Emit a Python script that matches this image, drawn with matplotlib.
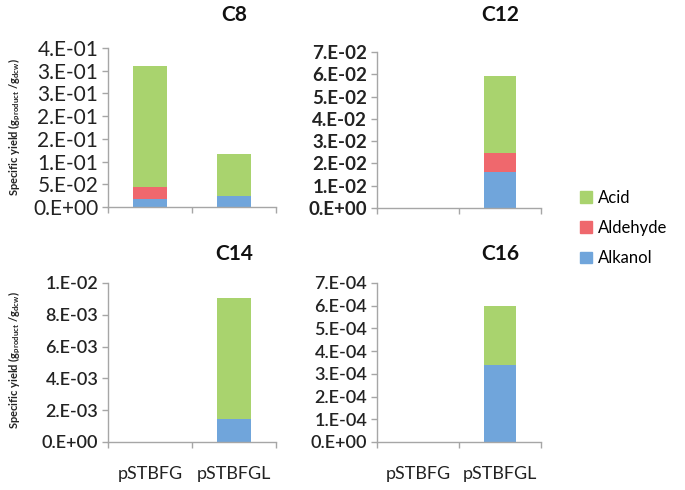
import numpy as np
import matplotlib
matplotlib.use('Agg')
import matplotlib.pyplot as plt
import matplotlib.transforms as mtransforms
from matplotlib.patches import Patch

plt.rcParams['font.family'] = ['Lato', 'DejaVu Sans']
plt.rcParams['mathtext.fontset'] = 'custom'
plt.rcParams['mathtext.rm'] = 'Lato'
plt.rcParams['mathtext.bf'] = 'Lato:bold'

# data
strains = ['pSTBFG', 'pSTBFGL']

c8_alkanol = [0.018, 0.024]
c8_aldehyde = [0.026, 0.0]
c8_acid = [0.266, 0.092]

c12_alkanol = [0.0, 0.0163]
c12_aldehyde = [0.0, 0.0084]
c12_acid = [0.0, 0.0344]

c14_alkanol = [0.0, 0.00147]
c14_aldehyde = [0.0, 0.0]
c14_acid = [0.0, 0.00759]

c16_alkanol = [0.0, 3.39e-4]
c16_aldehyde = [0.0, 0.0]
c16_acid = [0.0, 2.58e-4]

# colors
col_acid = '#A9D36E'
col_ald = '#EF686D'
col_alk = '#70A5DB'
col_axis = '#A6A6A6'


def excel_sci(v, pos=None):
    # Excel "0.E+00" style
    if abs(v) < 1e-15:
        return '0.E+00'
    e = int(np.floor(np.log10(abs(v)) + 1e-9))
    m = int(np.floor(v / 10**e + 0.5 + 1e-9))
    if m == 10:
        m, e = 1, e + 1
    return f"{m}.E{e:+03d}"


def plot_panel(ax, alk, ald, acid, ymax, nticks, title, title_y, show_x, tick_size, tick_weight):
    x = np.arange(len(strains))
    w = 0.4
    ax.bar(x, alk, w, color=col_alk)
    ax.bar(x, ald, w, bottom=alk, color=col_ald)
    ax.bar(x, acid, w, bottom=np.array(alk) + np.array(ald), color=col_acid)

    ax.set_xlim(-0.5, 1.5)
    ax.set_ylim(0, ymax)
    ticks = np.linspace(0, ymax, nticks + 1)
    ax.set_yticks(ticks)
    ax.set_yticklabels([excel_sci(t) for t in ticks],
                       fontsize=tick_size, fontweight=tick_weight)

    # category boundaries as ticks
    ax.set_xticks([-0.5, 0.5, 1.5])
    ax.set_xticklabels([])
    ax.set_xticks(x, minor=True)
    if show_x:
        ax.set_xticklabels(strains, minor=True, fontsize=13, color='#222222')
    ax.tick_params(axis='x', which='minor', length=0, pad=17)
    ax.tick_params(axis='both', which='major', length=4, color=col_axis, width=1)
    ax.tick_params(axis='y', pad=3, colors='#222222')
    ax.tick_params(axis='y', color=col_axis)

    for s in ['top', 'right']:
        ax.spines[s].set_visible(False)
    for s in ['left', 'bottom']:
        ax.spines[s].set_color(col_axis)
        ax.spines[s].set_linewidth(1)

    # title above second category
    trans = mtransforms.blended_transform_factory(ax.transData, ax.figure.transFigure)
    ax.text(1, 1 - title_y / 490, title, transform=trans, ha='center', va='center',
            fontsize=15, fontweight='bold', color='#111111')


fig = plt.figure(figsize=(6.85, 4.9), dpi=100)

ax_tl = fig.add_axes([0.1577, 0.5776, 0.2453, 0.3245])
ax_tr = fig.add_axes([0.5504, 0.5755, 0.2394, 0.3184])
ax_bl = fig.add_axes([0.1577, 0.0980, 0.2453, 0.3245])
ax_br = fig.add_axes([0.5504, 0.0980, 0.2394, 0.3245])

plot_panel(ax_tl, c8_alkanol, c8_aldehyde, c8_acid, 0.35, 7, 'C8', 15, False, 15, 'normal')
plot_panel(ax_tr, c12_alkanol, c12_aldehyde, c12_acid, 0.07, 7, 'C12', 15, False, 13.5, 'bold')
plot_panel(ax_bl, c14_alkanol, c14_aldehyde, c14_acid, 0.01, 5, 'C14', 254, True, 13, 'semibold')
plot_panel(ax_br, c16_alkanol, c16_aldehyde, c16_acid, 7e-4, 7, 'C16', 254, True, 13, 'semibold')

# y labels
ylab = r'Specific yield (g$_{\mathbf{product}}$ /g$_{\mathbf{dcw}}$)'
fig.text(15 / 685, 1 - 127 / 490, ylab, rotation=90, ha='center', va='center',
         fontsize=8, fontweight='bold', color='#222222')
fig.text(15 / 685, 1 - 360 / 490, ylab, rotation=90, ha='center', va='center',
         fontsize=8, fontweight='bold', color='#222222')

# legend
handles = [Patch(color=col_acid, label='Acid'),
           Patch(color=col_ald, label='Aldehyde'),
           Patch(color=col_alk, label='Alkanol')]
fig.legend(handles=handles, loc='upper left', bbox_to_anchor=(580 / 685, 1 - 190 / 490),
           frameon=False, fontsize=12, handlelength=0.7, handleheight=0.7,
           handletextpad=0.35, labelspacing=0.85, borderpad=0, borderaxespad=0)

fig.savefig('out.png', dpi=100)
